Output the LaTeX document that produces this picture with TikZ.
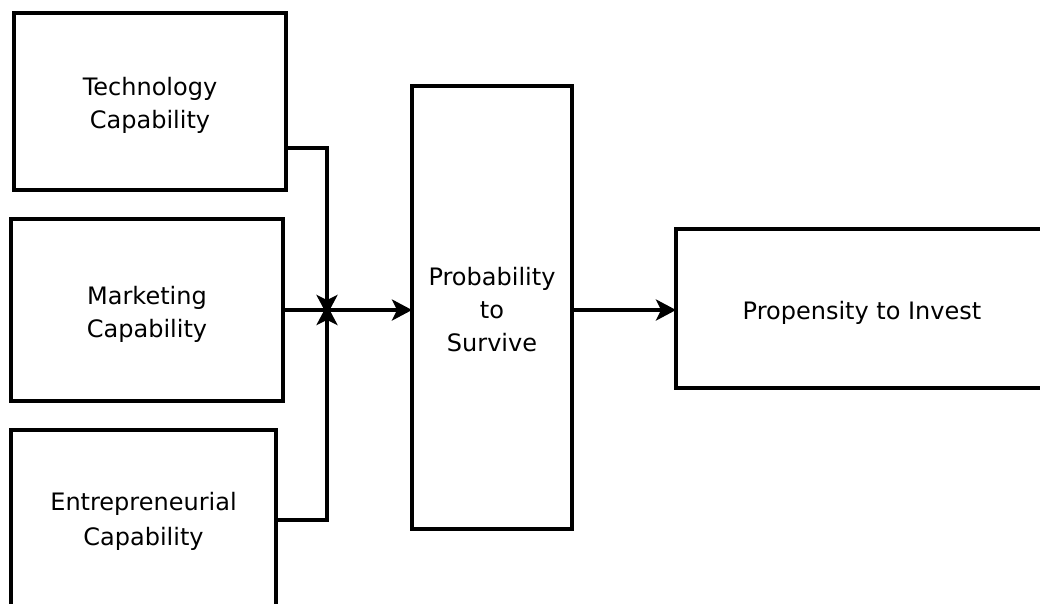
\documentclass[tikz,border=0pt]{standalone}
\usepackage{fontspec}
\setmainfont{DejaVu Sans}
\usetikzlibrary{arrows.meta}
\begin{document}
\begin{tikzpicture}[x=1pt,y=-1pt,
  box/.style={draw=black,line width=3.4pt,fill=white,inner sep=0pt,outer sep=0pt},
  txt/.style={align=center,inner sep=0pt,yshift=-4pt,font=\fontsize{24}{33}\selectfont},
  conn/.style={line width=3.2pt,-{Stealth[length=20pt,width=21pt,inset=5pt]}}]
\useasboundingbox (0,0) rectangle (1040,603);
\clip (0,0) rectangle (1040,603);
\node[box,minimum width=272pt,minimum height=177pt,
  label={[txt]center:Technology\\Capability}] (tech) at (150,101.5) {};
\node[box,minimum width=272pt,minimum height=182pt,
  label={[txt]center:Marketing\\Capability}] (mkt) at (147,310) {};
\node[box,minimum width=265pt,minimum height=180pt,
  label={[txt,yshift=2.5pt,font=\fontsize{24}{35}\selectfont]center:Entrepreneurial\\Capability}] (ent) at (143.5,520) {};
\node[box,minimum width=160pt,minimum height=443pt,
  label={[txt,yshift=2pt]center:Probability\\to\\Survive}] (prob) at (492,307.5) {};
\node[box,minimum width=372pt,minimum height=159pt,
  label={[txt]center:Propensity to Invest}] (prop) at (862,308.5) {};
\coordinate (j) at (327,310);
\draw[conn] ([yshift=-46.5pt]tech.east) -| ([yshift=-5pt]j);
\draw[conn] (ent.east) -| ([yshift=5pt]j);
\draw[conn] (mkt.east) -- (mkt.east -| prob.west);
\draw[conn] (prob.east |- mkt.east) -- (mkt.east -| prop.west);
\end{tikzpicture}
\end{document}
